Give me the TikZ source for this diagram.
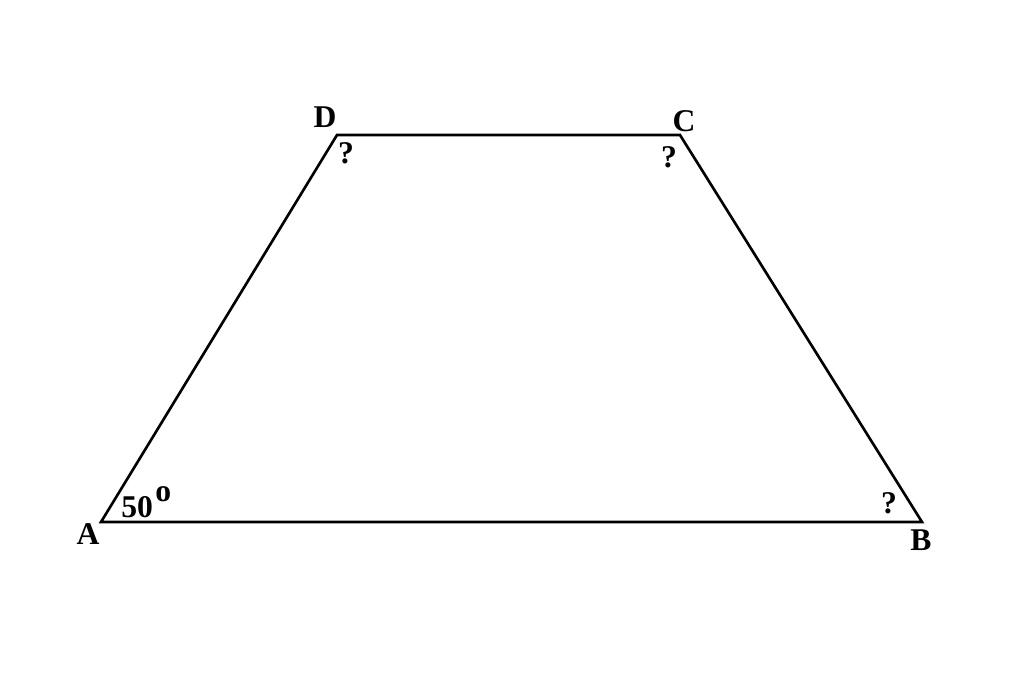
\documentclass[tikz,border=0pt]{standalone}
\usepackage{fontspec}
\setmainfont{Liberation Serif}
\usetikzlibrary{positioning}
\begin{document}
\begin{tikzpicture}[x=0.2mm,y=-0.2mm,
	lbl/.style={font=\fontsize{18}{20}\selectfont\bfseries, inner sep=0pt}]
	\useasboundingbox (0,0) rectangle (1024,682);
	\coordinate (A) at (101,522);
	\coordinate (B) at (922,522);
	\coordinate (C) at (680,135);
	\coordinate (D) at (337,135);
	\draw[line width=1.5pt, line join=miter] (A)--(B)--(C)--(D)--cycle;
	\node[lbl] (lA) at (88,534) {A};
	\node[lbl] (lB) at (921,540) {B};
	\node[lbl] (lC) at (684,121) {C};
	\node[lbl] (lD) at (325,117) {D};
	\node[lbl, anchor=base west] (angA) at (121,517) {50};
	\node[font=\fontsize{18}{20}\selectfont\bfseries, inner sep=0pt, anchor=base west] (degA) at (155,501) {o};
	\node[lbl] (qD) at (346,153) {?};
	\node[lbl] (qC) at (669,157) {?};
	\node[lbl] (qB) at (889,503) {?};
\end{tikzpicture}
\end{document}
